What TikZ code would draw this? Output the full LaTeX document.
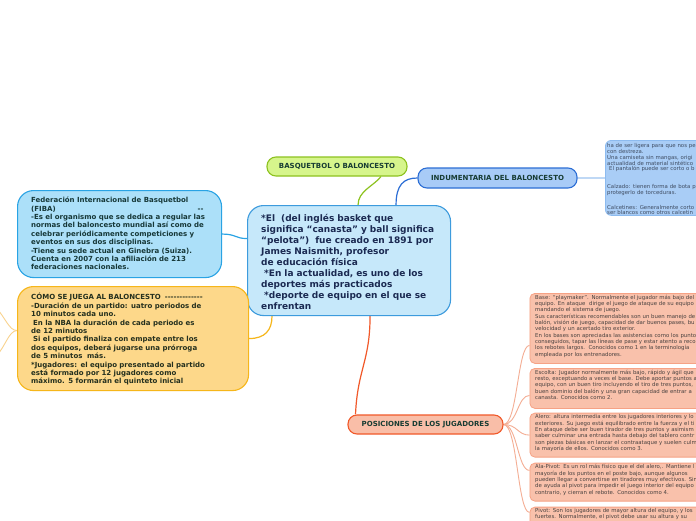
\documentclass[tikz,border=0pt]{standalone}
\usepackage{fontspec}
\setmainfont{DejaVu Sans}
\usetikzlibrary{backgrounds}
\setlength{\lineskiplimit}{-4pt}

\definecolor{mainfill}{HTML}{C6E8FA}
\definecolor{mainline}{HTML}{3D9BDD}
\definecolor{maintextc}{HTML}{1B2A52}
\definecolor{fibafill}{HTML}{ACE0F9}
\definecolor{fibaline}{HTML}{29A3E4}
\definecolor{fibatext}{HTML}{163838}
\definecolor{comofill}{HTML}{FDD88A}
\definecolor{comoline}{HTML}{F6B61A}
\definecolor{comotext}{HTML}{25301E}
\definecolor{comotwig}{HTML}{F9D38E}
\definecolor{basketfill}{HTML}{D6F58C}
\definecolor{basketline}{HTML}{8DC21F}
\definecolor{indumfill}{HTML}{A8CBF7}
\definecolor{indumline}{HTML}{2C6ED5}
\definecolor{dressfill}{HTML}{A9CDF6}
\definecolor{dressline}{HTML}{8DBBEF}
\definecolor{dresslink}{HTML}{9EC4F0}
\definecolor{dresstext}{HTML}{3F4D63}
\definecolor{posicfill}{HTML}{F9BEA8}
\definecolor{posicline}{HTML}{F1592A}
\definecolor{rolefill}{HTML}{F9C1AB}
\definecolor{roleline}{HTML}{F6A285}
\definecolor{roletwig}{HTML}{F4AE94}
\definecolor{roletext}{HTML}{4A4240}
\definecolor{labeltext}{HTML}{173C33}

\tikzset{
  every node/.style={inner sep=0pt},
  bigbox/.style={anchor=north west, line width=1.1pt, rounded corners=16pt},
  labelbox/.style={line width=1.1pt, rounded corners=9pt,
    font=\fontsize{7}{8}\selectfont\bfseries, text=labeltext},
  rolebox/.style={anchor=north west, draw=roleline, fill=rolefill,
    line width=0.8pt, rounded corners=5pt},
  maintext/.style={anchor=north west, align=left, text width=190pt,
    font=\fontsize{9}{11}\selectfont\bfseries, text=maintextc},
  boxtext/.style={anchor=north west, align=left, text width=200pt,
    font=\fontsize{7}{8.4}\selectfont\bfseries},
  smalltext/.style={anchor=north west, align=left, text width=200pt,
    font=\fontsize{5.4}{5.2}\selectfont, text=roletext},
  link/.style={line width=1.2pt},
  twig/.style={line width=0.9pt, draw=roletwig}
}

\begin{document}
\begin{tikzpicture}[x=1pt,y=-1pt]
  \useasboundingbox (0,0) rectangle (696,520);
  \clip (0,0) rectangle (696,520);

  % big boxes
  \node[bigbox, draw=mainline, fill=mainfill, minimum width=203pt, minimum height=110pt] (centre) at (247,205) {};
  \node[bigbox, draw=fibaline, fill=fibafill, minimum width=204pt, minimum height=87pt] (fiba) at (17,190) {};
  \node[bigbox, draw=comoline, fill=comofill, minimum width=231pt, minimum height=104pt] (como) at (17,286) {};
  \node[bigbox, draw=dressline, fill=dressfill, rounded corners=6pt, line width=0.8pt, minimum width=120pt, minimum height=75pt] (dress) at (605,140) {};

  % labels
  \node[labelbox, draw=basketline, fill=basketfill, minimum width=140pt, minimum height=19pt] (basket) at (337,166.5) {BASQUETBOL O BALONCESTO};
  \node[labelbox, draw=indumline, fill=indumfill, minimum width=159pt, minimum height=20pt] (indum) at (497.5,178) {INDUMENTARIA DEL BALONCESTO};
  \node[labelbox, draw=posicline, fill=posicfill, minimum width=155pt, minimum height=19pt] (posic) at (425.5,424.5) {POSICIONES DE LOS JUGADORES};

  % player boxes
  \node[rolebox, minimum width=190pt, minimum height=70pt] (base) at (529.5,293) {};
  \node[rolebox, minimum width=190pt, minimum height=40pt] (escolta) at (529.5,368) {};
  \node[rolebox, minimum width=190pt, minimum height=44pt] (alero) at (529.5,412.7) {};
  \node[rolebox, minimum width=190pt, minimum height=38pt] (alapivot) at (529.5,462.7) {};
  \node[rolebox, minimum width=190pt, minimum height=40pt] (pivot) at (529.5,506.7) {};

  % texts
  \node[maintext] (centretxt) at (261,213.6) {*El\ \ (del inglés basket que\\
    significa “canasta” y ball significa\\
    “pelota”)\ \ fue creado en 1891 por\\
    James Naismith, profesor\\
    de educación física\\
    \hspace*{3pt}*En la actualidad, es uno de los\\
    deportes más practicados\\
    \hspace*{3pt}*deporte de equipo en el que se\\
    enfrentan};

  \node[boxtext, text=fibatext] (fibatxt) at (31,196.9) {Federación Internacional de Basquetbol\\
    (FIBA)\hspace{142pt}-{}-\\
    -Es el organismo que se dedica a regular las\\
    normas del baloncesto mundial así como de\\
    celebrar periódicamente competiciones y\\
    eventos en sus dos disciplinas.\\
    -Tiene su sede actual en Ginebra (Suiza).\\
    Cuenta en 2007 con la afiliación de 213\\
    federaciones nacionales.};

  \node[boxtext, text=comotext] (comotxt) at (31,293.2) {CÓMO SE JUEGA AL BALONCESTO\hspace{4pt}-{}-{}-{}-{}-{}-{}-{}-{}-{}-{}-{}-{}-\\
    -Duración de un partido: uatro periodos de\\
    10 minutos cada uno.\\
    \hspace*{2pt}En la NBA la duración de cada periodo es\\
    de 12 minutos\\
    \hspace*{2pt}Si el partido finaliza con empate entre los\\
    dos equipos, deberá jugarse una prórroga\\
    de 5 minutos\ \ más.\\
    {}*Jugadores: el equipo presentado al partido\\
    está formado por 12 jugadores como\\
    máximo. 5 formarán el quinteto inicial};

  \node[smalltext, text=dresstext] (dresstxt) at (607,143.3) {ha de ser ligera para que nos pe\\
    con destreza.\\
    Una camiseta sin mangas, origi\\
    actualidad de material sintético\\
    \hspace*{2pt}El pantalón puede ser corto o b\\[11.5pt]
    Calzado: tienen forma de bota p\\
    protegerlo de torceduras.\\[8.7pt]
    Calcetines: Generalmente corto\\
    ser blancos como otros calcetin};

  \node[smalltext] (basetxt) at (535,294.8) {Base: “playmaker”. Normalmente el jugador más bajo del\\
    equipo. En ataque\ \ dirige el juego de ataque de su equipo\\
    mandando el sistema de juego.\\
    Sus características recomendables son un buen manejo de\\
    balón, visión de juego, capacidad de dar buenos pases, bu\\
    velocidad y un acertado tiro exterior.\\
    En los bases son apreciadas las asistencias como los punto\\
    conseguidos, tapar las líneas de pase y estar atento a reco\\
    los rebotes largos.\ \ Conocidos como 1 en la terminología\\
    empleada por los entrenadores.};

  \node[smalltext] (escoltatxt) at (535,369.8) {Escolta: Jugador normalmente más bajo, rápido y ágil que\\
    resto, exceptuando a veces el base. Debe aportar puntos a\\
    equipo, con un buen tiro incluyendo el tiro de tres puntos,\\
    buen dominio del balón y una gran capacidad de entrar a\\
    canasta. Conocidos como 2.};

  \node[smalltext] (alerotxt) at (535,414.4) {Alero: altura intermedia entre los jugadores interiores y lo\\
    exteriores. Su juego está equilibrado entre la fuerza y el ti\\
    En ataque debe ser buen tirador de tres puntos y asimism\\
    saber culminar una entrada hasta debajo del tablero contr\\
    son piezas básicas en lanzar el contraataque y suelen culm\\
    la mayoría de ellos. Conocidos como 3.};

  \node[smalltext] (alapivottxt) at (535,464.4) {Ala-Pivot: Es un rol más físico que el del alero,. Mantiene l\\
    mayoría de los puntos en el poste bajo, aunque algunos\\
    pueden llegar a convertirse en tiradores muy efectivos. Sin\\
    de ayuda al pivot para impedir el juego interior del equipo\\
    contrario, y cierran el rebote. Conocidos como 4.};

  \node[smalltext] (pivottxt) at (535,508.4) {Pivot: Son los jugadores de mayor altura del equipo, y los\\
    fuertes. Normalmente, el pivot debe usar su altura y su};

  \coordinate (comoup) at (-3,309);
  \coordinate (comodown) at (-3,355);

  % connectors
  \begin{pgfonlayer}{background}
    \fill[white] (0,0) rectangle (696,520);
    \draw[link, draw=basketline] ([xshift=9pt]centre.north) .. controls +(0,-14) and +(-8,10) .. ([xshift=44pt]basket.south);
    \draw[link, draw=indumline] ([xshift=47pt]centre.north) .. controls +(0,-20) and +(-14,0) .. (indum.west);
    \draw[link, draw=dresslink] (indum.east) .. controls +(12,0) and +(-12,0) .. (dress.west);
    \draw[link, draw=fibaline] (fiba.east) .. controls +(14,0) and +(-12,0) .. ([yshift=22pt]centre.west);
    \draw[link, draw=comoline] (como.east) .. controls +(16,0) and +(0,14) .. ([xshift=25pt]centre.south west);
    \draw[link, draw=posicline] ([xshift=21pt]centre.south) .. controls +(0,45) and +(2,-45) .. ([xshift=-70pt]posic.north);
    \foreach \role/\dy in {base/-17, escolta/-7, alero/0, alapivot/11.7, pivot/14.7}{
      \draw[twig] (posic.east) .. controls +(14,0) and +(-12,0) .. ([yshift=\dy pt]\role.west);
    }
    \draw[twig, draw=comotwig] ([yshift=8pt]como.west) .. controls +(-8,0) and +(8,8) .. (comoup);
    \draw[twig, draw=comotwig] ([yshift=8pt]como.west) .. controls +(-8,0) and +(8,-8) .. (comodown);
  \end{pgfonlayer}
\end{tikzpicture}
\end{document}
